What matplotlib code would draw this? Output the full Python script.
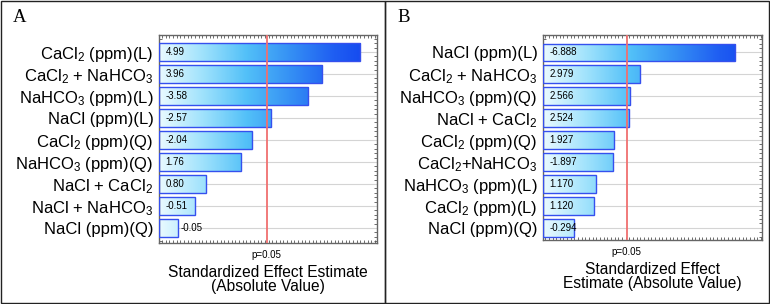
import numpy as np
import matplotlib
matplotlib.use("Agg")
import matplotlib.pyplot as plt
from matplotlib.colors import LinearSegmentedColormap
from matplotlib.patches import Rectangle
from matplotlib.ticker import MultipleLocator, NullLocator

plt.rcParams['font.family'] = ['Liberation Sans', 'DejaVu Sans']
plt.rcParams['mathtext.fontset'] = 'custom'
plt.rcParams['mathtext.rm'] = 'Liberation Sans'
plt.rcParams['mathtext.default'] = 'regular'

# panel A
labels_a = [r"CaCl$_2$ (ppm)(L)", r"CaCl$_2$ + NaHCO$_3$", r"NaHCO$_3$ (ppm)(L)",
            "NaCl (ppm)(L)", r"CaCl$_2$ (ppm)(Q)", r"NaHCO$_3$ (ppm)(Q)",
            r"NaCl + CaCl$_2$", r"NaCl + NaHCO$_3$", "NaCl (ppm)(Q)"]
values_a = [4.99, 3.96, -3.58, -2.57, -2.04, 1.76, 0.80, -0.51, -0.05]

# panel B
labels_b = ["NaCl (ppm)(L)", r"CaCl$_2$ + NaHCO$_3$", r"NaHCO$_3$ (ppm)(Q)",
            r"NaCl + CaCl$_2$", r"CaCl$_2$ (ppm)(Q)", r"CaCl$_2$+NaHCO$_3$",
            r"NaHCO$_3$ (ppm)(L)", r"CaCl$_2$ (ppm)(L)", "NaCl (ppm)(Q)"]
values_b = [-6.888, 2.979, 2.566, 2.524, 1.927, -1.897, 1.170, 1.120, -0.294]

p_crit = 2.447  # t value for p=0.05

grad = LinearSegmentedColormap.from_list(
    "bars", ["#eafaff", "#9fe2fc", "#52c0f8", "#3590f4", "#1f5ef2", "#1040ee"])


def pareto(ax, labels, values, fmt, xlim, ylim, xminor, xlabel):
    ys = np.arange(len(values))
    lengths = np.abs(values)
    ax.set_xlim(*xlim)
    ax.set_ylim(*ylim)
    for y in ys:
        ax.axhline(y, color="#d4d4d4", lw=0.8, zorder=0)
    h = 0.8
    gimg = np.linspace(0, 1, 256).reshape(1, -1)
    for y, L, v in zip(ys, lengths, values):
        rect = Rectangle((xlim[0], y - h / 2), L - xlim[0], h,
                         facecolor="none", edgecolor="#3550ee", lw=1.0, zorder=3)
        ax.add_patch(rect)
        im = ax.imshow(gimg, cmap=grad, aspect="auto", zorder=2,
                       extent=(xlim[0], xlim[1], y + h / 2, y - h / 2))
        im.set_clip_path(rect)
        span = xlim[1] - xlim[0]
        tx = xlim[0] + 0.03 * span
        if L - xlim[0] < 0.1 * span:
            tx = L + 0.01 * span
        ax.text(tx, y, fmt.format(v), fontsize=7, va="center", ha="left", zorder=4)
    ax.set_ylim(*ylim)
    ax.axvline(p_crit, color="#f07070", lw=1.3, zorder=3)
    ax.text(p_crit, -0.035, "p=0.05", transform=ax.get_xaxis_transform(),
            ha="center", va="top", fontsize=7)
    ax.set_yticks(ys)
    ax.set_yticklabels(labels, fontsize=12)
    ax.xaxis.set_major_locator(NullLocator())
    ax.xaxis.set_minor_locator(MultipleLocator(xminor))
    ax.yaxis.set_minor_locator(MultipleLocator(0.2))
    ax.tick_params(axis="y", which="major", length=0, pad=4)
    ax.tick_params(which="minor", direction="in", length=2, width=0.6,
                   color="#555555", top=True, right=True, bottom=True, left=True)
    for s in ax.spines.values():
        s.set_color("#666666")
        s.set_linewidth(1.0)
    ax.text(0.5, -0.105, xlabel, transform=ax.transAxes, ha="center", va="top",
            fontsize=11.2, linespacing=0.95)


fig = plt.figure(figsize=(7.7, 3.04), dpi=100)

ax_a = fig.add_axes([0.2065, 0.2007, 0.2831, 0.6842])
pareto(ax_a, labels_a, values_a, "{:.2f}", (-0.48, 5.45), (8.68, -0.77), 0.1,
       "Standardized Effect Estimate\n(Absolute Value)")

ax_b = fig.add_axes([0.7052, 0.2105, 0.2844, 0.6743])
pareto(ax_b, labels_b, values_b, "{:.3f}", (-0.99, 7.99), (8.56, -0.79), 0.15,
       "Standardized Effect\nEstimate (Absolute Value)")

# panel frames
for x0, w in [(0.0013, 0.4981), (0.4994, 0.4993)]:
    fig.add_artist(Rectangle((x0, 0.002), w, 0.995, transform=fig.transFigure,
                             facecolor="none", edgecolor="#222222", lw=1.0))

fig.text(0.016, 0.97, "A", fontsize=13.5, family="Liberation Serif", va="top", ha="left")
fig.text(0.516, 0.97, "B", fontsize=13.5, family="Liberation Serif", va="top", ha="left")

fig.savefig("out.png", dpi=100)
